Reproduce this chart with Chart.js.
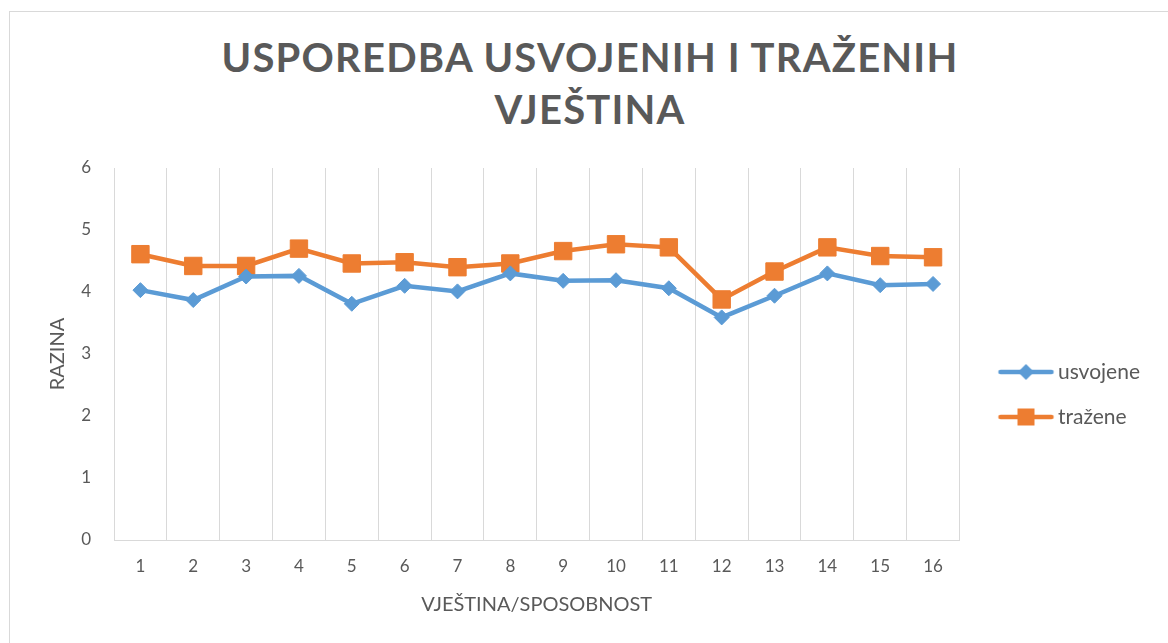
<!DOCTYPE html>
<html>
<head>
<meta charset="utf-8">
<script src="https://cdn.jsdelivr.net/npm/chart.js@4.4.1/dist/chart.umd.min.js"></script>
<style>
  html, body { margin: 0; padding: 0; background: #fff; }
  #wrap { position: relative; width: 1168px; height: 643px; overflow: hidden; }
  #frame { position: absolute; left: 9px; top: 11px; width: 1200px; height: 700px; border: 1px solid #d9d9d9; }
  #title {
    position: absolute; left: 0; top: 31px; width: 1180px; text-align: center;
    font-family: Lato, sans-serif; font-weight: 700; font-size: 40px; line-height: 52px;
    letter-spacing: 1.2px; color: #595959;
  }
  canvas { position: absolute; left: 0; top: 0; }
</style>
</head>
<body>
<div id="wrap">
  <div id="frame"></div>
  <div id="title">USPOREDBA USVOJENIH I TRAŽENIH<br>VJEŠTINA</div>
  <canvas id="chart" width="1168" height="643"></canvas>
</div>
<script>
const labels    = ["1", "2", "3", "4", "5", "6", "7", "8", "9", "10", "11", "12", "13", "14", "15", "16"];
const usvojene  = [4.03, 3.87, 4.25, 4.26, 3.81, 4.10, 4.01, 4.30, 4.18, 4.19, 4.06, 3.59, 3.94, 4.30, 4.11, 4.13];
const trazene   = [4.61, 4.42, 4.42, 4.70, 4.46, 4.48, 4.40, 4.46, 4.66, 4.77, 4.72, 3.88, 4.33, 4.72, 4.58, 4.56];
const yTicks    = [0, 1, 2, 3, 4, 5, 6];

const BLUE   = "#5b9bd5";
const ORANGE = "#ed7d31";
const GRID   = "#d9d9d9";
const TEXT   = "#595959";
const FONT   = "Lato, 'Open Sans', sans-serif";

// legend swatch: line with marker, drawn on a small canvas
function legendSwatch(color, shape) {
  const c = document.createElement("canvas");
  c.width = 110; c.height = 24;
  const g = c.getContext("2d");
  g.strokeStyle = color;
  g.fillStyle = color;
  g.lineWidth = 4.5;
  g.lineCap = "round";
  g.beginPath(); g.moveTo(40, 12); g.lineTo(91, 12); g.stroke();
  const cx = 65.5, cy = 12;
  g.beginPath();
  if (shape === "diamond") {
    g.moveTo(cx - 8, cy); g.lineTo(cx, cy - 8); g.lineTo(cx + 8, cy); g.lineTo(cx, cy + 8);
  } else {
    g.rect(cx - 8.5, cy - 8.5, 17, 17);
  }
  g.closePath(); g.fill();
  return c;
}
const swatches = [legendSwatch(BLUE, "diamond"), legendSwatch(ORANGE, "square")];

new Chart(document.getElementById("chart"), {
  type: "line",
  data: {
    labels,
    datasets: [
      {
        label: "usvojene",
        data: usvojene,
        borderColor: BLUE,
        backgroundColor: BLUE,
        borderWidth: 4.5,
        pointStyle: "rectRot",
        pointRadius: 7.5,
        pointBorderWidth: 1,
        pointHoverRadius: 7.5,
        tension: 0,
      },
      {
        label: "tražene",
        data: trazene,
        borderColor: ORANGE,
        backgroundColor: ORANGE,
        borderWidth: 4.5,
        pointStyle: "rect",
        pointRadius: 12.3,
        pointBorderWidth: 1,
        pointHoverRadius: 12.3,
        tension: 0,
      },
    ],
  },
  options: {
    responsive: false,
    animation: false,
    layout: { padding: { top: 168, bottom: 22, left: 45.5, right: 18 } },
    plugins: {
      title: { display: false },
      tooltip: { enabled: false },
      legend: {
        position: "right",
        labels: {
          usePointStyle: true,
          pointStyleWidth: 64,
          padding: 24,
          color: TEXT,
          font: { family: FONT, size: 21 },
          generateLabels: chart =>
            Chart.defaults.plugins.legend.labels.generateLabels(chart)
              .map((item, i) => ({ ...item, pointStyle: swatches[i] })),
        },
      },
    },
    scales: {
      x: {
        offset: true,
        grid: { offset: true, color: GRID, lineWidth: 1, drawTicks: false },
        border: { color: GRID, width: 1 },
        ticks: { color: TEXT, padding: 16.8, font: { family: FONT, size: 17 }, maxRotation: 0 },
        title: {
          display: true, text: "VJEŠTINA/SPOSOBNOST", color: TEXT,
          font: { family: FONT, size: 20 }, padding: { top: 0, bottom: 4 },
        },
        afterFit: axis => { axis.height = 81; },
      },
      y: {
        min: 0,
        max: 6,
        afterBuildTicks: axis => { axis.ticks = yTicks.map(v => ({ value: v })); },
        grid: { display: false, drawTicks: false },
        border: { color: GRID, width: 1 },
        ticks: { color: TEXT, padding: 23, font: { family: FONT, size: 17 } },
        title: {
          display: true, text: "RAZINA", color: TEXT,
          font: { family: FONT, size: 20 }, padding: { top: 0, bottom: 0 },
        },
        afterFit: axis => { axis.width = 68.5; },
      },
    },
  },
});
</script>
</body>
</html>
